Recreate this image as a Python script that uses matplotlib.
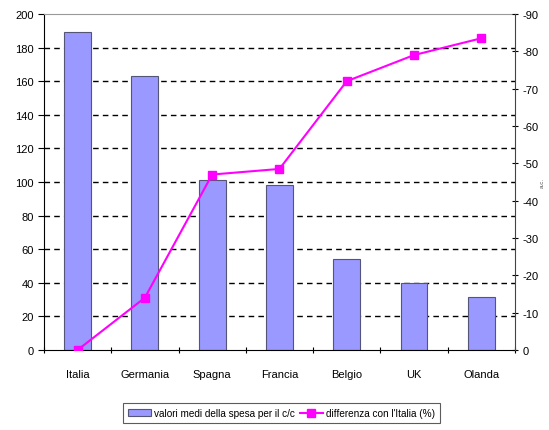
import matplotlib
matplotlib.use("Agg")
import matplotlib.pyplot as plt
import numpy as np

categories = ["Italia", "Germania", "Spagna", "Francia", "Belgio", "UK", "Olanda"]
spesa = [189, 163, 101, 98, 54, 40, 31.5]
differenza = [0, -14, -47, -48.5, -72, -79, -83.5]

plt.rcParams['font.family'] = ['Liberation Sans Narrow', 'Liberation Sans', 'DejaVu Sans']

fig = plt.figure(figsize=(5.49, 4.31), dpi=100)
ax = fig.add_axes([0.080, 0.1856, 0.858, 0.7796])
x = np.arange(len(categories))
bars = ax.bar(x, spesa, width=0.4, color='#9999ff', edgecolor='#555577', linewidth=0.8,
              label='valori medi della spesa per il c/c', zorder=2)
ax.set_xlim(-0.5, len(categories) - 0.5)
ax.set_ylim(0, 200)
ax.set_yticks(range(0, 201, 20))
for v in range(20, 200, 20):
    ax.axhline(v, color='black', linestyle=(0, (4, 3)), linewidth=1.0, zorder=1)
ax.set_xticks(x)
ax.set_xticklabels(categories, fontsize=8)
ax.set_xticks(np.arange(-0.5, len(categories)), minor=True)
ax.tick_params(axis='x', which='major', length=0, pad=14)
ax.tick_params(axis='x', which='minor', length=5, direction='inout', width=0.8)
ax.tick_params(axis='y', labelsize=8, length=4, direction='out', width=0.8)
ax.spines['top'].set_color('#999999')
ax.spines['right'].set_visible(False)
ax.spines['left'].set_linewidth(0.8)
ax.spines['bottom'].set_linewidth(0.8)

ax2 = ax.twinx()
line, = ax2.plot(x, differenza, color='#ff00ff', marker='s', markersize=6, linewidth=1.5,
                 label="differenza con l'Italia (%)", zorder=3)
ax2.set_ylim(0, -90)
ax2.set_yticks(range(0, -91, -10))
ax2.set_yticklabels([str(v) for v in range(0, -91, -10)])
ax2.tick_params(axis='y', labelsize=8, length=4, direction='inout', width=0.8)
for s in ['top', 'left', 'bottom']:
    ax2.spines[s].set_visible(False)
ax2.spines['right'].set_linewidth(0.8)
ax2.spines['right'].set_color('#444444')
ax2.set_ylabel('a.c.', fontsize=4.5, rotation=90, labelpad=1, color='#555555')

leg = fig.legend(handles=[bars, line], loc='center', bbox_to_anchor=(0.512, 0.039), ncol=2,
                 fontsize=7.2, frameon=True, fancybox=False, edgecolor='#333333',
                 handlelength=2.3, handletextpad=0.3, columnspacing=0.5, borderpad=0.5)
leg.get_frame().set_linewidth(0.8)

fig.savefig('out.png', dpi=100)
